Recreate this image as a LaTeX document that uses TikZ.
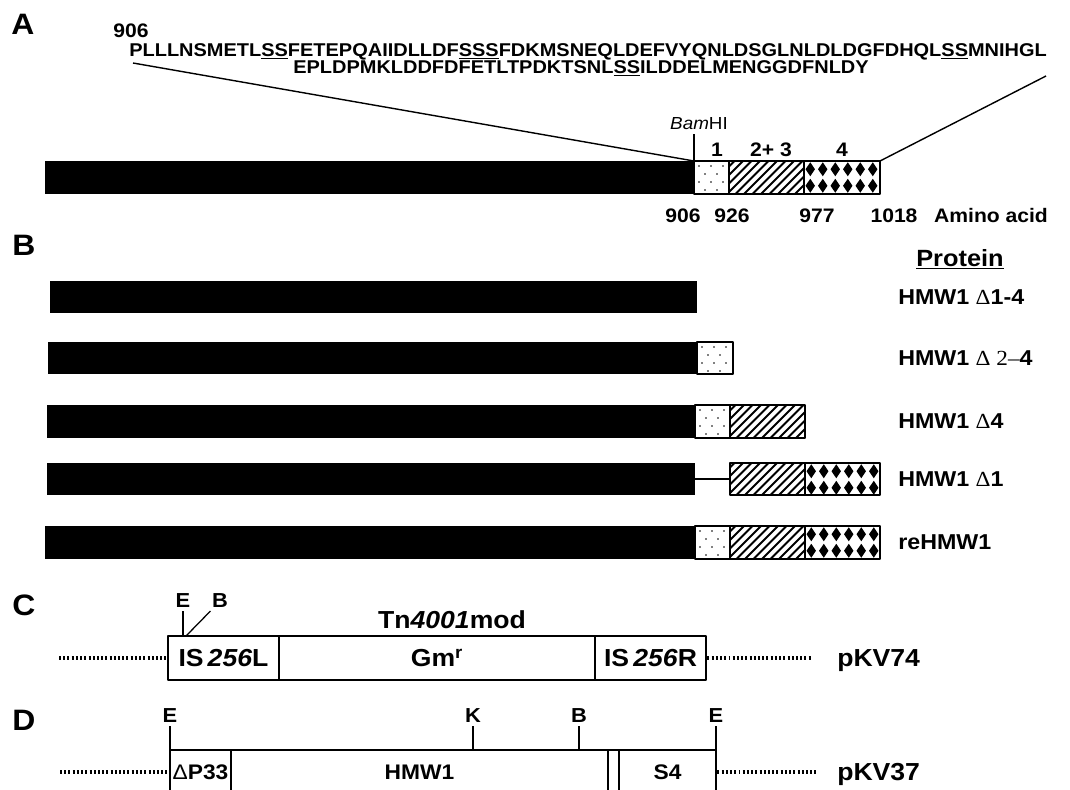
\documentclass[tikz,border=0pt]{standalone}
\usepackage{fontspec}
\setmainfont{Liberation Sans}[FakeStretch=1.08]
\newfontfamily\thinserif{Liberation Serif}[FakeStretch=1.08]
\usetikzlibrary{positioning}

\newcommand\dlt{{\thinserif\mdseries Δ}}

% segments of the bar: left, right, top, bottom (in px)
\newcommand\blackseg[4]{\fill (#1,#3) rectangle (#2,#4);}
\newcommand\dotseg[4]{%
  \fill[white] (#1,#3) rectangle (#2,#4);
  \foreach \dx/\dy in {5/5,17/5,29/5,11/13,23/13,5/21,17/21,29/21,11/29,23/29}
    \fill ({#1+\dx},{#3+\dy}) circle (0.55pt);
  \draw[segline] (#1,#3) rectangle (#2,#4);}
\newcommand\hatchseg[4]{%
  \fill[white] (#1,#3) rectangle (#2,#4);
  \begin{scope}
    \clip (#1,#3) rectangle (#2,#4);
    \foreach \k in {-36,-27.5,...,80}
      \draw[line width=1.4pt] ({#1+\k},#4) -- ++(40,-40);
  \end{scope}
  \draw[segline] (#1,#3) rectangle (#2,#4);}
\newcommand\diamseg[4]{%
  \fill[white] (#1,#3) rectangle (#2,#4);
  \foreach \c in {0,...,5}
    \foreach \r in {0,1}
      \fill ({#1+6.25+12.5*\c},{#3+8.25+16.5*\r}) +(-4.7,0) -- +(0,-7) -- +(4.7,0) -- +(0,7) -- cycle;
  \draw[segline] (#1,#3) rectangle (#2,#4);}

\tikzset{
  panel/.style={font=\bfseries\fontsize{21}{23}\selectfont, inner sep=0pt, anchor=base},
  seq/.style={font=\bfseries\fontsize{13.15}{15}\selectfont, inner sep=0pt, anchor=base west},
  lbl/.style={font=\bfseries\fontsize{13.9}{16}\selectfont, inner sep=0pt, anchor=base},
  protein/.style={font=\bfseries\fontsize{15.3}{17}\selectfont, inner sep=0pt, anchor=west},
  site/.style={font=\bfseries\fontsize{14.4}{16}\selectfont, inner sep=0pt},
  cell/.style={draw, line width=2pt, minimum height=1.1cm, inner sep=0pt, font=\bfseries\fontsize{17.5}{19}\selectfont},
  dcell/.style={cell, font=\bfseries\fontsize{15}{17}\selectfont},
  plasmid/.style={font=\bfseries\fontsize{17.5}{19}\selectfont, inner sep=0pt, anchor=base west},
  segline/.style={draw=black, line width=1pt},
  spacer/.style={line width=2.5pt, dash pattern=on 1.4pt off 1.6pt},
  tick/.style={line width=0.9pt},
  zoomline/.style={line width=1pt},
}

\begin{document}
\begin{tikzpicture}[x=0.025cm, y=-0.025cm, line join=round]
\clip (0,0) rectangle (1070,789);
% A
\node[panel] (pA) at (23,34) {A};
\node[lbl] (top906) at (131,37) {906};
\node[seq] (seqa) at (129,56) {PLLLNSMETL\underline{SS}FETEPQAIIDLLDF\underline{SSS}FDKMSNEQLDEFVYQNLDSGLNLDLDGFDHQL\underline{SS}MNIHGL};
\node[seq] (seqb) at (293,73) {EPLDPMKLDDFDFETLTPDKTSNL\underline{SS}ILDDELMENGGDFNLDY};
\blackseg{45}{694}{161}{194}
\dotseg{694}{729}{161}{194}
\hatchseg{729}{804}{161}{194}
\diamseg{804}{880}{161}{194}
\coordinate (bam) at (694,161);
\coordinate (bamtop) at (694,134);
\coordinate (aend) at (880,161);
\coordinate (seqL) at (133,63);
\coordinate (seqR) at (1046,76);
\draw[zoomline] (seqL) -- (bam);
\draw[zoomline] (seqR) -- (aend);
\draw[line width=1.3pt] (bam) -- (bamtop);
\node[font=\fontsize{12.4}{14}\selectfont, inner sep=0pt, anchor=base] (bamlbl) at (699,129) {\textit{Bam}HI};
\node[lbl] (r1) at (717,156) {1};
\node[lbl] (r23) at (771,156) {2+ 3};
\node[lbl] (r4) at (842,156) {4};
\node[lbl] (a906) at (683,222) {906};
\node[lbl] (a926) at (732,222) {926};
\node[lbl] (a977) at (817,222) {977};
\node[lbl] (a1018) at (894,222) {1018};
\node[lbl] (amino) at (991,222) {Amino acid};
% B
\node[panel] (pB) at (24,255) {B};
\node[font=\bfseries\fontsize{16.7}{19}\selectfont, inner sep=0pt, anchor=base] (protein) at (960,266) {\underline{Protein}};
\blackseg{50}{697}{281}{313}
\node[protein] (d14) at (898,297) {HMW1 \dlt1-4};
\blackseg{48}{697}{342}{374}
\dotseg{697}{733}{342}{374}
\node[protein] (d24) at (898,358) {HMW1 {\thinserif\mdseries Δ 2–}4};
\blackseg{47}{695}{405}{438}
\dotseg{695}{730}{405}{438}
\hatchseg{730}{805}{405}{438}
\node[protein] (d4) at (898,421) {HMW1 \dlt4};
\blackseg{47}{695}{463}{495}
\draw[tick] (695,479) -- (730,479);
\hatchseg{730}{805}{463}{495}
\diamseg{805}{880}{463}{495}
\node[protein] (d1) at (898,479) {HMW1 \dlt1};
\blackseg{45}{695}{526}{559}
\dotseg{695}{730}{526}{559}
\hatchseg{730}{805}{526}{559}
\diamseg{805}{880}{526}{559}
\node[protein] (re) at (898,542) {reHMW1};
% C
\node[panel] (pC) at (24,615) {C};
\node[cell, minimum width=2.775cm] (isL) at (223.5,658) {IS\,\textit{256}L};
\node[cell, minimum width=7.9cm] (gm) at (437,658) {Gm\textsuperscript{r}};
\node[cell, minimum width=2.775cm] (isR) at (650.5,658) {IS\,\textit{256}R};
\node[font=\bfseries\fontsize{17.5}{19}\selectfont, inner sep=0pt] (tn) at (452,620) {Tn\textit{4001}mod};
\coordinate (cl) at (59,658);
\coordinate (cr) at (811,658);
\draw[spacer] (cl) -- (isL.west);
\draw[spacer] (isR.east) -- (cr);
\node[plasmid] (p74) at (837,666) {pKV74};
\node[site] (cEl) at (183,601) {E};
\node[site] (cBl) at (220,601) {B};
\coordinate (cE) at (183,636);
\coordinate (cB) at (186,636);
\draw[tick] (cE) -- ([yshift=-2pt]cEl.south);
\draw[tick] (cB) -- ([shift={(-1pt,-2pt)}]cBl.south west);
% D
\node[panel] (pD) at (24,730) {D};
\node[dcell, minimum width=1.525cm] (dp) at (200.5,772) {{\mdseries Δ}P33};
\node[dcell, minimum width=9.425cm] (hmw) at (419.5,772) {HMW1};
\node[dcell, minimum width=0.275cm] (gap) at (613.5,772) {};
\node[dcell, minimum width=2.425cm] (s4) at (667.5,772) {S4};
\coordinate (dl) at (60,772);
\coordinate (dr) at (818,772);
\draw[spacer] (dl) -- (dp.west);
\draw[spacer] (s4.east) -- (dr);
\node[plasmid] (p37) at (837,780) {pKV37};
\node[site] (dEl) at (170,716) {E};
\node[site] (dKl) at (473,716) {K};
\node[site] (dBl) at (579,716) {B};
\node[site] (dEr) at (716,716) {E};
\coordinate (dE) at (170,750);
\coordinate (dK) at (473,750);
\coordinate (dB) at (579,750);
\coordinate (dE2) at (716,750);
\draw[tick] (dE) -- ([yshift=-2pt]dEl.south);
\draw[tick] (dK) -- ([yshift=-2pt]dKl.south);
\draw[tick] (dB) -- ([yshift=-2pt]dBl.south);
\draw[tick] (dE2) -- ([yshift=-2pt]dEr.south);
\end{tikzpicture}
\end{document}
